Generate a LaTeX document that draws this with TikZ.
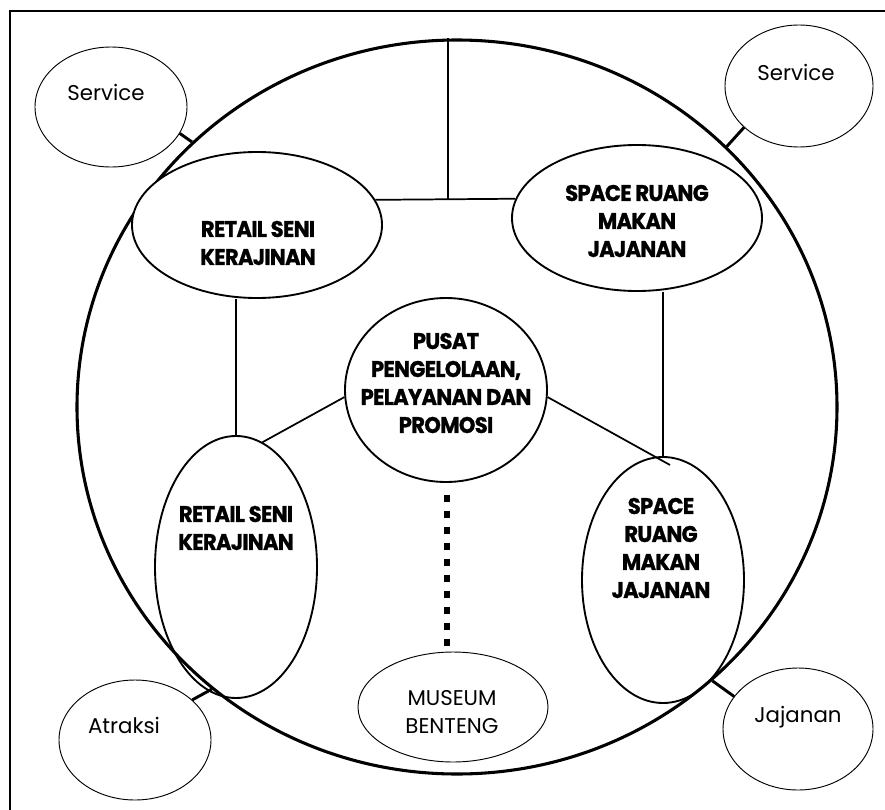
\documentclass[tikz,border=0pt]{standalone}
\usepackage{fontspec}
\setmainfont{Poppins}
\newfontfamily\lblfont{Poppins}[FakeStretch=0.93,LetterSpace=-3,FakeBold=1]
\usetikzlibrary{shapes.geometric,calc}
\begin{document}
\begin{tikzpicture}[x=0.75pt,y=-0.75pt,
  ell/.style={ellipse, draw, inner sep=0pt},
  thinell/.style={ell, line width=0.7pt},
  medell/.style={ell, line width=1.4pt},
  bigell/.style={ell, line width=2.3pt},
  link/.style={line width=1.3pt},
  stub/.style={line width=2.2pt},
  frameline/.style={line width=1.5pt},
  dots/.style={line width=5pt, dash pattern=on 5pt off 7pt},
  lbl/.style={font=\lblfont\bfseries\fontsize{17}{21}\selectfont, align=center, inner sep=0pt},
  txt/.style={font=\fontsize{16}{21}\selectfont, align=center, inner sep=0pt}]

\useasboundingbox (0,0) rectangle (885,810);
\fill[white] (0,0) rectangle (885,810);
\coordinate (fBL) at (10,810);
\coordinate (fTL) at (10,11);
\coordinate (fTR) at (885,11);
\draw[frameline] (fBL) -- (fTL) -- (fTR);

% ellipses
\node[bigell, minimum width=570pt, minimum height=550.5pt] (big) at (457,407) {};
\node[thinell, minimum width=114pt, minimum height=90pt] (svcL) at (111,107) {};
\node[thinell, minimum width=111pt, minimum height=91.5pt] (svcR) at (799,86) {};
\node[medell, fill=white, minimum width=187.5pt, minimum height=109.5pt] (rt) at (257,225) {};
\node[medell, fill=white, minimum width=187.5pt, minimum height=109.5pt] (st) at (637,218) {};
\node[medell, minimum width=151.5pt, minimum height=138pt] (pc) at (446,390) {};
\node[medell, minimum width=121.5pt, minimum height=196.5pt] (rb) at (236,567) {};
\node[medell, minimum width=121.5pt, minimum height=184.5pt] (sb) at (663,580) {};
\node[thinell, minimum width=142.5pt, minimum height=82.5pt] (mu) at (453,707) {};
\node[thinell, minimum width=114pt, minimum height=90pt] (at) at (135,740) {};
\node[thinell, minimum width=112.5pt, minimum height=91.5pt] (jj) at (798,729) {};

% connectors
\coordinate (tj) at (448,199);
\draw[link] (tj |- big.north) -- (tj);
\draw[link] (rt.12.5) -- (st.171.1);
\draw[link] (rb.north |- rt.south) -- (rb.north);
\draw[link] (sb.north |- st.south) -- (sb.north);
\draw[link] (pc.-176) -- (rb.78.2);
\draw[link] (pc.-4.5) -- ($(sb.center)+(7,-115)$);
\draw[dots] ($(pc.south)+(1,12)$) -- ($(mu.north)+(-6,-6)$);

\draw[stub] (svcL.-21.5) -- (big.135.2);
\draw[stub] (svcR.-143.6) -- (big.44.8);
\draw[stub] (at.35.6) -- (big.-131.7);
\draw[stub] (jj.153.1) -- (big.-47);

% texts
\node[txt, anchor=base] (t-svcL) at (106,100) {Service};
\node[txt, anchor=base] (t-svcR) at (796,80) {Service};
\node[txt, anchor=base] (t-at) at (124,733) {Atraksi};
\node[txt, anchor=base] (t-jj) at (798,722) {Jajanan};
\node[txt] (t-mu) at (452,712) {MUSEUM\\BENTENG};
\node[lbl] (t-rt) at (258,243) {RETAIL SENI\\KERAJINAN};
\node[lbl] (t-st) at (637,221) {SPACE RUANG\\MAKAN\\JAJANAN};
\node[lbl] (t-pc) at (446,383) {PUSAT\\PENGELOLAAN,\\PELAYANAN DAN\\PROMOSI};
\node[lbl] (t-rb) at (236,528) {RETAIL SENI\\KERAJINAN};
\node[lbl] (t-sb) at (661,548) {SPACE\\RUANG\\MAKAN\\JAJANAN};
\end{tikzpicture}
\end{document}
